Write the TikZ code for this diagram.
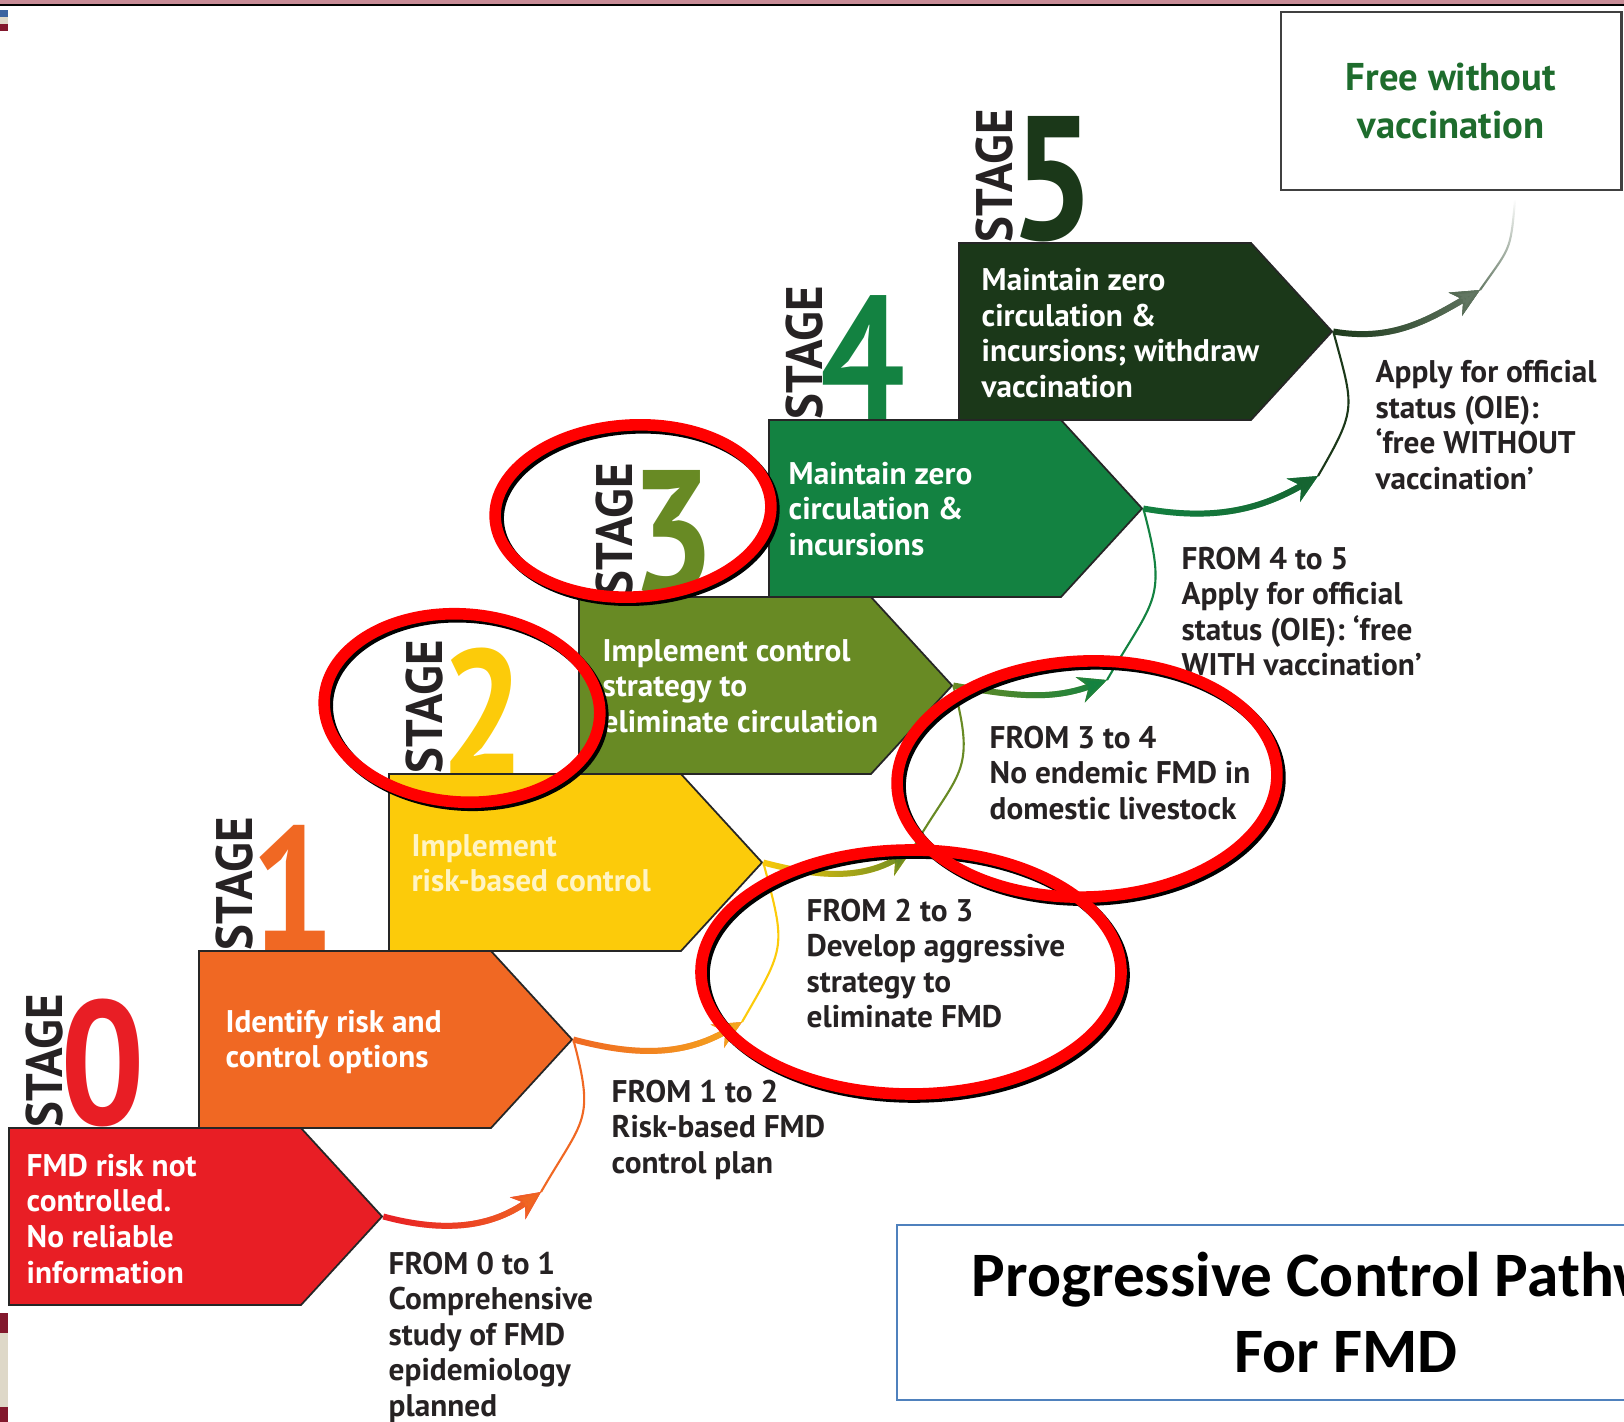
\documentclass[tikz,border=0pt]{standalone}
\usepackage{fontspec}
\setmainfont{PT Sans}
\newfontfamily\stagefont{PT Sans}[FakeStretch=0.85]
\newfontfamily\wordfont{PT Sans}[FakeStretch=0.95]
\newfontfamily\titlefont{Carlito}
\usepackage{xcolor}
\usepackage{tikz}
\usetikzlibrary{shapes,shapes.symbols}
\usetikzlibrary{calc,arrows.meta,positioning,fadings}
\definecolor{st0}{RGB}{232,30,37}
\definecolor{st1}{RGB}{240,104,35}
\definecolor{st2}{RGB}{252,203,10}
\definecolor{st3}{RGB}{104,138,36}
\definecolor{st4}{RGB}{19,130,65}
\definecolor{st5}{RGB}{27,56,25}
\definecolor{ambre}{RGB}{245,168,30}
\definecolor{palegreen}{RGB}{100,120,100}
\definecolor{paleyellow}{RGB}{255,244,196}
\definecolor{notegray}{RGB}{38,34,35}
\definecolor{freegreen}{RGB}{30,108,45}
\definecolor{titleblue}{RGB}{79,129,189}
\definecolor{slidepink}{RGB}{199,139,150}
\definecolor{slidered}{RGB}{130,24,45}
\definecolor{slidebeige}{RGB}{222,216,200}
\definecolor{slideblue}{RGB}{60,100,160}
\tikzset{
  stg_box/.style={signal, signal to=east, signal from=nowhere, signal pointer angle=95, draw=black!85, line width=0.5pt, minimum width=3.73cm, minimum height=1.77cm, inner sep=0pt, anchor=west},
  stg_txt/.style={anchor=north west, inner sep=0pt, align=left, text=white, font=\fontsize{8.9}{10.1}\selectfont\bfseries},
  stg_word/.style={rotate=90, anchor=south west, inner sep=0pt, text=notegray, font=\wordfont\bfseries\fontsize{14.6}{15}\selectfont},
  stg_num/.style={anchor=south west, inner sep=0pt, font=\stagefont\bfseries\fontsize{50}{50}\selectfont},
  note_txt/.style={anchor=north west, inner sep=0pt, align=left, text=notegray, font=\fontsize{8.9}{10.1}\selectfont\bfseries},
  flow_thk/.style={line width=1.7pt, -{Stealth[length=8pt, width=7.5pt, inset=2.5pt]}},
  flow_thn/.style={line width=0.6pt, looseness=1.4},
  free_box/.style={draw=black!75, line width=0.8pt, minimum width=3.4cm, minimum height=1.78cm, align=center, text=freegreen, font=\fontsize{11}{13.5}\selectfont\bfseries},
  title_box/.style={draw=titleblue, line width=0.6pt, minimum width=8.98cm, minimum height=1.75cm, align=center, font=\titlefont\bfseries\fontsize{18}{21.5}\selectfont},
  ring/.style={draw=red, line width=3.3pt},
  ring_shd/.style={draw=black, line width=3.3pt}
}
\begin{document}
\begin{tikzpicture}[x=0.01cm, y=0.01cm]
\useasboundingbox (0,0) rectangle (1624,-1422);
\clip (0,0) rectangle (1624,-1422);
\fill[slidepink] (0,0) rectangle (1624,-4);
\draw[black, line width=0.5pt] (0,-5) -- (1624,-5);
\fill[slideblue] (0,-10) rectangle (8,-17);
\fill[slidebeige] (0,-17) rectangle (8,-24);
\fill[slidered] (0,-24) rectangle (8,-31);
\fill[slidered] (0,-1313) rectangle (8,-1333);
\fill[slidebeige] (0,-1333) rectangle (8,-1407);
\fill[slidered] (0,-1407) rectangle (8,-1422);

\node[stg_box, fill=st0] (s0) at (8,-1216.5) {};
\node[stg_box, fill=st1] (s1) at (198,-1039.5) {};
\node[stg_box, fill=st2] (s2) at (388,-862.5) {};
\node[stg_box, fill=st3] (s3) at (578,-685.5) {};
\node[stg_box, fill=st4] (s4) at (768,-508.5) {};
\node[stg_box, fill=st5] (s5) at (958,-331.5) {};

\node[stg_txt] (x0) at ($(s0.west)+(18,63)$) {FMD risk not\\controlled.\\No reliable\\information};
\node[stg_txt] (x1) at ($(s1.west)+(27,30)$) {Identify risk and\\control options};
\node[stg_txt, text=paleyellow] (x2) at ($(s2.west)+(23,29)$) {Implement\\risk-based control};
\node[stg_txt] (x3) at ($(s3.west)+(24,47)$) {Implement control\\strategy to\\eliminate circulation};
\node[stg_txt] (x4) at ($(s4.west)+(20,47)$) {Maintain zero\\circulation \&\\incursions};
\node[stg_txt] (x5) at ($(s5.west)+(23,63.5)$) {Maintain zero\\circulation \&\\incursions; withdraw\\vaccination};

\node[stg_word] (w0) at ($(s0.west)+(56,88.5)$) {STAGE};
\node[stg_num, text=st0] (n0) at ($(s0.west)+(52,88.5)$) {0};
\node[stg_word] (w1) at ($(s1.west)+(56,88.5)$) {STAGE};
\node[stg_num, text=st1] (n1) at ($(s1.west)+(52,88.5)$) {1};
\node[stg_word] (w2) at ($(s2.west)+(56,88.5)$) {STAGE};
\node[stg_num, text=st2] (n2) at ($(s2.west)+(52,88.5)$) {2};
\node[stg_word] (w3) at ($(s3.west)+(56,88.5)$) {STAGE};
\node[stg_num, text=st3] (n3) at ($(s3.west)+(52,88.5)$) {3};
\node[stg_word] (w4) at ($(s4.west)+(56,88.5)$) {STAGE};
\node[stg_num, text=st4] (n4) at ($(s4.west)+(52,88.5)$) {4};
\node[stg_word] (w5) at ($(s5.west)+(56,88.5)$) {STAGE};
\node[stg_num, text=st5] (n5) at ($(s5.west)+(52,88.5)$) {5};

\coordinate (a0) at (541,-1192);
\coordinate (a1) at (742,-1022);
\coordinate (a2) at (912,-850);
\coordinate (a3) at (1107,-680);
\coordinate (a4) at (1318,-476);
\coordinate (a5) at (1480,-290);
\coordinate (fend) at (1515,-200);

\draw[flow_thk, draw=st0] (s0.east) to[out=-15, in=-145] (a0);
\draw[flow_thk, draw=st1, path fading=west] (s0.east) to[out=-15, in=-145] (a0);
\draw[flow_thn, draw=st1] (a0) to[out=60, in=-75] (s1.east);
\draw[flow_thk, draw=st1] (s1.east) to[out=-15, in=-150] (a1);
\draw[flow_thk, draw=ambre, path fading=west] (s1.east) to[out=-15, in=-150] (a1);
\draw[flow_thn, draw=st2] (a1) to[out=60, in=-75] (s2.east);
\draw[flow_thk, draw=st2] (s2.east) to[out=-15, in=-150] (a2);
\draw[flow_thk, draw=st3, path fading=west] (s2.east) to[out=-15, in=-150] (a2);
\draw[flow_thn, draw=st3] (a2) to[out=60, in=-75] (s3.east);
\draw[flow_thk, draw=st3] (s3.east) to[out=-10, in=-160] (a3);
\draw[flow_thk, draw=st4, path fading=west] (s3.east) to[out=-10, in=-160] (a3);
\draw[flow_thn, draw=st4] (a3) to[out=60, in=-75] (s4.east);
\draw[flow_thk, draw=st4] (s4.east) to[out=-10, in=-150] (a4);
\draw[flow_thk, draw=st4!60!st5, path fading=west] (s4.east) to[out=-10, in=-150] (a4);
\draw[flow_thn, draw=st5] (a4) to[out=60, in=-75] (s5.east);
\draw[flow_thk, draw=st5] (s5.east) to[out=-10, in=-150] (a5);
\draw[flow_thk, draw=palegreen, path fading=west] (s5.east) to[out=-10, in=-150] (a5);
\draw[flow_thn, draw=palegreen, path fading=north] (a5) to[out=55, in=-95] (fend);

\node[note_txt] (f01) at (388,-1251) {FROM 0 to 1\\Comprehensive\\study of FMD\\epidemiology\\planned};
\node[note_txt] (f12) at (611,-1079) {FROM 1 to 2\\Risk-based FMD\\control plan};
\node[note_txt] (f23) at (806,-898) {FROM 2 to 3\\Develop aggressive\\strategy to\\eliminate FMD};
\node[note_txt] (f34) at (989,-725) {FROM 3 to 4\\No endemic FMD in\\domestic livestock};
\node[note_txt] (f45) at (1181,-546) {FROM 4 to 5\\Apply for official\\status (OIE): ‘free\\WITH vaccination’};
\node[note_txt] (f5) at (1375,-360) {Apply for official\\status (OIE):\\‘free WITHOUT\\vaccination’};

\node[free_box] (free) at (1451,-101) {Free without\\vaccination};
\node[title_box] (title) at (1346,-1312.5) {Progressive Control Pathway\\For FMD};

\draw[ring_shd, rotate around={3:(636,-514)}] (636,-514) ellipse [x radius=138, y radius=86];
\draw[ring_shd, rotate around={-4:(465,-711)}] (465,-711) ellipse [x radius=138, y radius=94];
\draw[ring_shd, rotate around={2:(1090,-782)}] (1090,-782) ellipse [x radius=190, y radius=118];
\draw[ring_shd] (914,-975) ellipse [x radius=210, y radius=122];
\draw[ring, rotate around={3:(633,-511)}] (633,-511) ellipse [x radius=138, y radius=86];
\draw[ring, rotate around={-4:(462,-708)}] (462,-708) ellipse [x radius=138, y radius=94];
\draw[ring, rotate around={2:(1087,-779)}] (1087,-779) ellipse [x radius=190, y radius=118];
\draw[ring] (911,-972) ellipse [x radius=210, y radius=122];
\end{tikzpicture}
\end{document}
